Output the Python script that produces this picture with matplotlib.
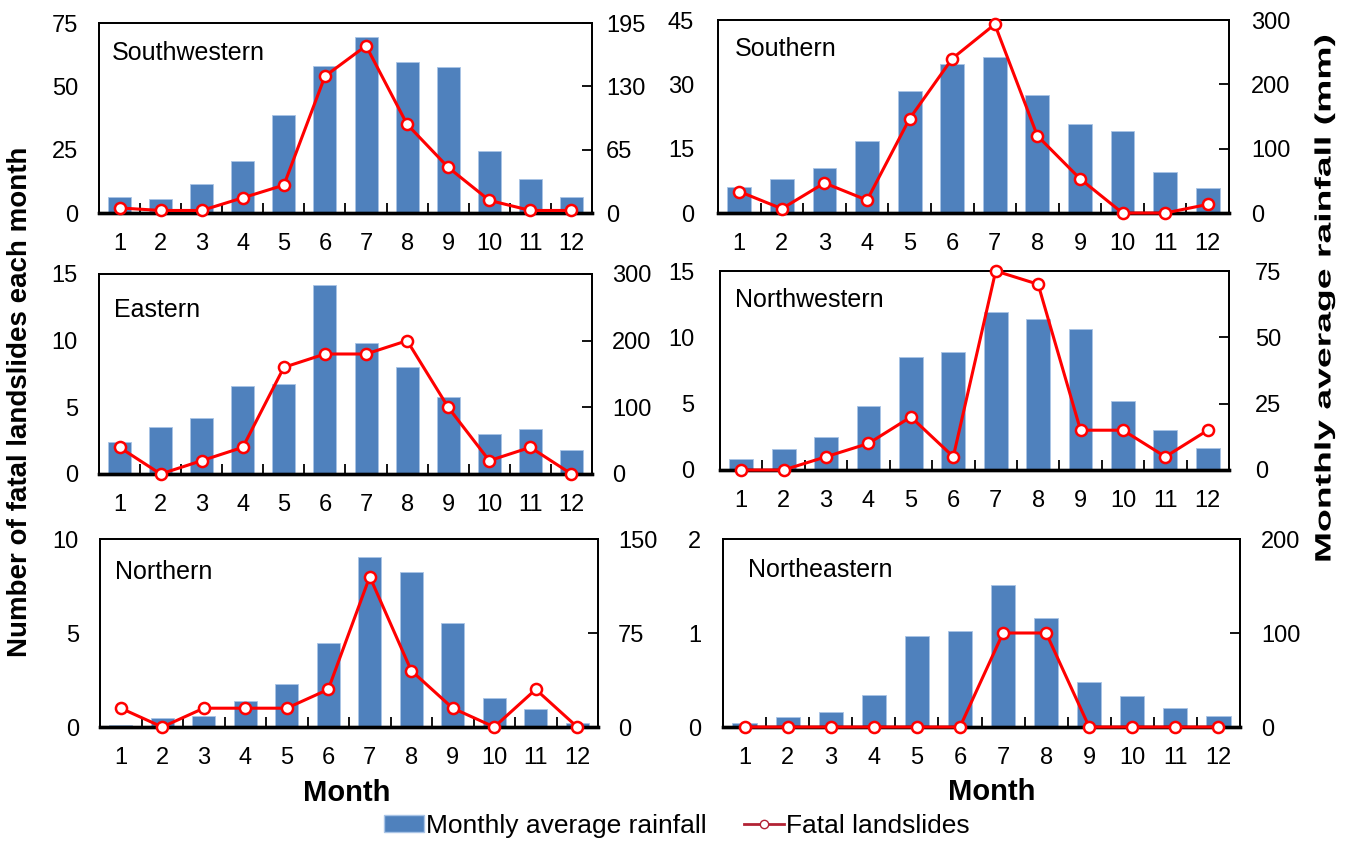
import matplotlib
matplotlib.use("Agg")
import matplotlib.pyplot as plt
from matplotlib.lines import Line2D
from matplotlib.patches import Patch
from matplotlib.patheffects import AbstractPathEffect
from matplotlib.transforms import Affine2D
import numpy as np

plt.rcParams['font.family'] = ['Liberation Sans', 'DejaVu Sans']

months = list(range(1, 13))
month_labels = [str(m) for m in months]

regions = ["Southwestern", "Southern", "Eastern", "Northwestern", "Northern", "Northeastern"]

# Monthly average rainfall (mm) - bars, right axis
rain_sw = [16, 14, 30, 53, 101, 151, 181, 155, 150, 64, 35, 16]
rain_s = [41, 53, 70, 112, 190, 232, 242, 183, 138, 128, 63, 39]
rain_e = [48, 71, 84, 132, 135, 283, 196, 161, 115, 60, 68, 36]
rain_nw = [4, 8, 12.6, 24, 42.7, 44.6, 59.5, 57, 53, 26, 15, 8.2]
rain_n = [1.3, 7.2, 8.8, 20.8, 34, 67.4, 136, 123.6, 83, 23, 14.4, 3.2]
rain_ne = [4.6, 11, 16.3, 34.3, 96.6, 102, 151.5, 115.7, 48, 33.3, 20.5, 12]

# Fatal landslides (count) - line, left axis
slides_sw = [2, 1, 1, 6, 11, 54, 66, 35, 18, 5, 1, 1]
slides_s = [5, 1, 7, 3, 22, 36, 44, 18, 8, 0, 0, 2]
slides_e = [2, 0, 1, 2, 8, 9, 9, 10, 5, 1, 2, 0]
slides_nw = [0, 0, 1, 2, 4, 1, 15, 14, 3, 3, 1, 3]
slides_n = [1, 0, 1, 1, 1, 2, 8, 3, 1, 0, 2, 0]
slides_ne = [0, 0, 0, 0, 0, 0, 1, 1, 0, 0, 0, 0]

rain = [rain_sw, rain_s, rain_e, rain_nw, rain_n, rain_ne]
slides = [slides_sw, slides_s, slides_e, slides_nw, slides_n, slides_ne]

left_ticks = [[0, 25, 50, 75], [0, 15, 30, 45], [0, 5, 10, 15],
              [0, 5, 10, 15], [0, 5, 10], [0, 1, 2]]
right_ticks = [[0, 65, 130, 195], [0, 100, 200, 300], [0, 100, 200, 300],
               [0, 25, 50, 75], [0, 75, 150], [0, 100, 200]]

W, H = 1354, 842
DPI = 100
fig = plt.figure(figsize=(W / DPI, H / DPI), dpi=DPI)

# axes rectangles in pixels: (x0, x1, ytop, ybottom)
rects_px = [(99, 592, 23, 213), (718, 1229, 20, 213),
            (99, 592, 274, 474), (720, 1229, 271, 470),
            (100, 598, 539, 727), (723, 1240, 539, 727)]
label_pos = [(0.026, 0.842), (0.032, 0.85), (0.03, 0.82),
             (0.029, 0.854), (0.03, 0.826), (0.048, 0.837)]
left_pad_px = [21, 24, 21, 26, 21, 22]
right_pad_px = [14, 22, 20, 26, 20, 21]

bar_color = '#4F81BD'
fs_tick = 17
px2pt = 72.0 / DPI

for i in range(6):
    x0, x1, yt, yb = rects_px[i]
    ax = fig.add_axes([x0 / W, 1 - yb / H, (x1 - x0) / W, (yb - yt) / H])
    ax2 = ax.twinx()
    ax2.bar(months, rain[i], width=0.56, color=bar_color, edgecolor='#A9C4E6',
            linewidth=0.6, zorder=2)
    ax.plot(months, slides[i], color='#FF0000', lw=2.2, marker='o', ms=8,
            mfc='white', mec='#FF0000', mew=1.8, zorder=3, clip_on=False)
    ax.set_zorder(ax2.get_zorder() + 1)
    ax.patch.set_visible(False)

    lt, rt = left_ticks[i], right_ticks[i]
    ax.set_ylim(lt[0], lt[-1])
    ax2.set_ylim(rt[0], rt[-1])
    ax.set_yticks(lt)
    ax.set_yticklabels([str(v) for v in lt])
    ax2.set_yticks(rt)
    ax2.set_yticklabels([str(v) for v in rt])
    ax.set_xlim(0.5, 12.5)
    ax.set_xticks(months)
    ax.set_xticklabels(month_labels)
    ax.set_xticks(np.arange(1.5, 12.5, 1.0), minor=True)
    ax.tick_params(axis='x', which='major', length=0, pad=20 * px2pt,
                   labelsize=fs_tick)
    ax.tick_params(axis='x', which='minor', direction='in', length=7, width=1.3)
    ax.tick_params(axis='y', length=0, pad=left_pad_px[i] * px2pt,
                   labelsize=fs_tick)
    ax2.tick_params(axis='y', direction='in', length=7, width=1.3,
                    pad=right_pad_px[i] * px2pt, labelsize=fs_tick)
    for a in (ax, ax2):
        for s in a.spines.values():
            s.set_linewidth(1.3)
        a.spines['bottom'].set_linewidth(2.4)
    ax.text(label_pos[i][0], label_pos[i][1], regions[i], transform=ax.transAxes,
            fontsize=18, ha='left', va='center')


class StretchY(AbstractPathEffect):
    """Stretch the drawn text vertically about a fixed display y."""

    def __init__(self, cy, s):
        super().__init__()
        self.cy = cy
        self.s = s

    def draw_path(self, renderer, gc, tpath, affine, rgbFace=None):
        t = affine + Affine2D().translate(0, -self.cy).scale(1, self.s).translate(0, self.cy)
        renderer.draw_path(gc, tpath, t, rgbFace)


fig.text(20 / W, 1 - 402 / H, "Number of fatal landslides each month",
         rotation=90, fontsize=20, fontweight='bold', ha='center', va='center')
ry = 299
fig.text(1325 / W, 1 - ry / H, "Monthly average rainfall (mm)",
         rotation=90, fontsize=16, fontweight='bold', ha='center', va='center',
         path_effects=[StretchY(H - ry, 1.68)])
fig.text(347 / W, 1 - 793 / H, "Month", fontsize=21, fontweight='bold',
         ha='center', va='center')
fig.text(992 / W, 1 - 792 / H, "Month", fontsize=21, fontweight='bold',
         ha='center', va='center')

handles = [Patch(facecolor=bar_color, edgecolor='#A9C4E6'),
           Line2D([0], [0], color='#B22234', lw=2, marker='o', ms=6,
                  mfc='white', mec='#B22234')]
fig.legend(handles, ["Monthly average rainfall", "Fatal landslides"],
           loc='center', bbox_to_anchor=(0.5, 1 - 826 / H), ncol=2,
           frameon=False, fontsize=19, handlelength=1.5, handleheight=0.6,
           handletextpad=0.1, columnspacing=1.4, borderpad=0.1)

fig.savefig("out.png", dpi=DPI)
